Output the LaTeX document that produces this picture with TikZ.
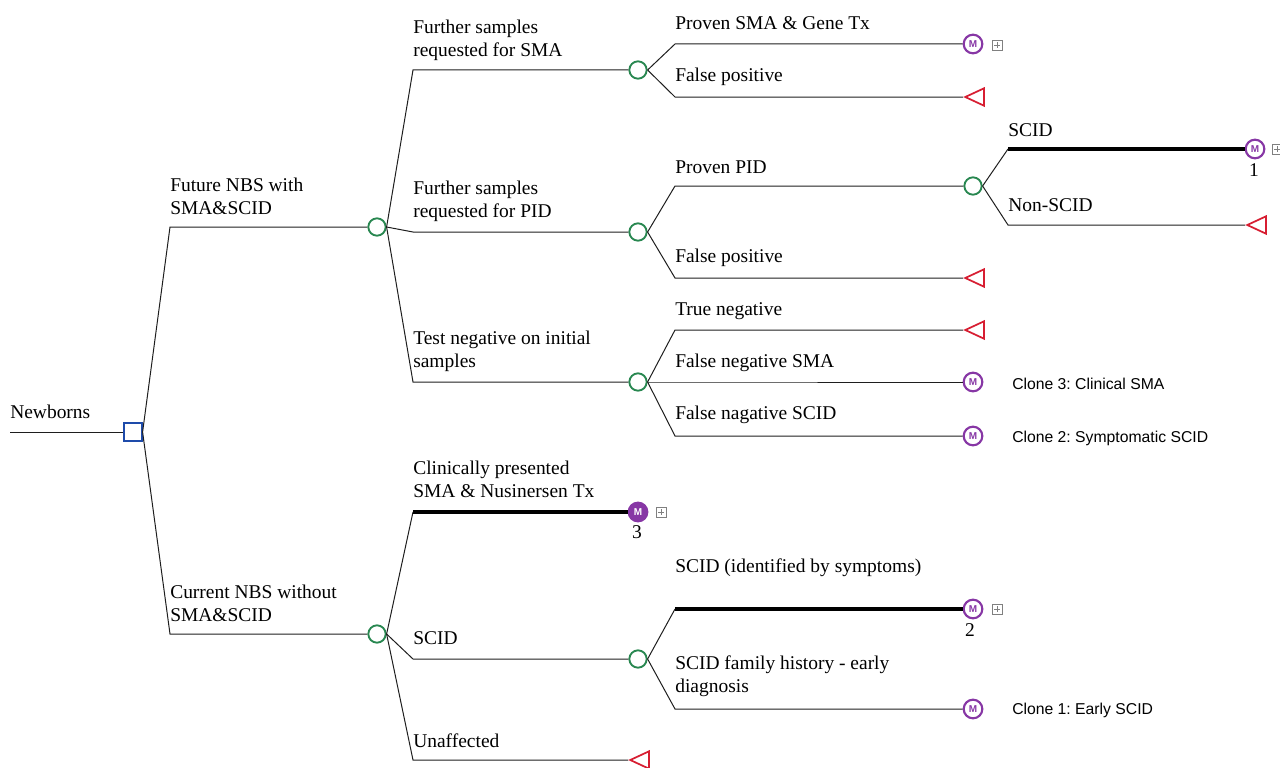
\documentclass[tikz,border=0pt]{standalone}
\usepackage{fontspec}
\setmainfont{Liberation Serif}
\newfontfamily\clonefont{Liberation Sans}
\usetikzlibrary{shapes.geometric}
\definecolor{chancegreen}{RGB}{40,135,80}
\definecolor{decblue}{RGB}{30,75,170}
\definecolor{termred}{RGB}{215,30,50}
\definecolor{markovpurple}{RGB}{135,55,165}
\definecolor{linegray}{RGB}{30,30,30}
\frenchspacing
\begin{document}
\begin{tikzpicture}[x=0.75pt,y=-0.75pt,
 chance/.style={circle,draw=chancegreen,line width=1.4pt,minimum size=13pt,inner sep=0pt,fill=white},
 decision/.style={rectangle,draw=decblue,line width=1.4pt,minimum size=13pt,inner sep=0pt},
 terminal/.style={isosceles triangle,shape border rotate=180,isosceles triangle stretches,minimum width=13pt,minimum height=14pt,draw=termred,line width=1.3pt,inner sep=0pt,anchor=apex},
 markov/.style={circle,draw=markovpurple,line width=1.6pt,minimum size=14pt,inner sep=0pt,text=markovpurple,font=\fontsize{7.5}{7.5}\clonefont\bfseries},
 markovfill/.style={markov,fill=markovpurple,text=white},
 lbl/.style={anchor=west,align=left,inner sep=0pt,yshift=-1.5pt,font=\fontsize{14.6}{17.25}\selectfont},
 clone/.style={anchor=west,inner sep=0pt,font=\fontsize{11.8}{13}\clonefont},
 num/.style={inner sep=0pt,font=\fontsize{14.6}{16}\selectfont},
 plusbox/.style={draw=gray,line width=0.5pt,minimum size=7.5pt,inner sep=0pt,
   path picture={\draw[gray,line width=0.5pt]
     ([xshift=-2.2pt]path picture bounding box.center)--([xshift=2.2pt]path picture bounding box.center)
     ([yshift=-2.2pt]path picture bounding box.center)--([yshift=2.2pt]path picture bounding box.center);}},
 conn/.style={draw=linegray,line width=0.75pt},
 thickconn/.style={draw=black,line width=2.6pt}
]
\useasboundingbox (0,0) rectangle (1280,767);

% root
\coordinate (r0) at (10,432);
\node[decision] (root) at (133,432) {};
\draw[conn] (r0) -- (root.west);
\node[lbl] at (10,410) {Newborns};

% first level
\node[chance] (A) at (377,227) {};
\node[chance] (D) at (377,634) {};
\coordinate (a0) at (170,227);
\coordinate (d0) at (170,634);
\draw[conn] (root.east) -- (a0) -- (A.west);
\draw[conn] (root.east) -- (d0) -- (D.west);
\node[lbl] at (170,194) {Future NBS with\\SMA\&SCID};
\node[lbl] at (170,601.5) {Current NBS without\\SMA\&SCID};

% A branches
\node[chance] (B1) at (638,70) {};
\node[chance] (B2) at (638,232) {};
\node[chance] (B3) at (638,382) {};
\coordinate (a1) at (413,70);
\coordinate (a2) at (413,232);
\coordinate (a3) at (413,382);
\draw[conn] (A.east) -- (a1) -- (B1.west);
\draw[conn] (A.east) -- (a2) -- (B2.west);
\draw[conn] (A.east) -- (a3) -- (B3.west);
\node[lbl] at (413,38.5) {Further samples\\requested for SMA};
\node[lbl] at (413,199.5) {Further samples\\requested for PID};
\node[lbl] at (413,349.5) {Test negative on initial\\samples};

% B1 branches
\node[markov] (M1) at (973,44) {M};
\node[plusbox] (P1) at (997,45) {};
\node[terminal] (T1) at (963,97) {};
\coordinate (b11) at (675,44);
\coordinate (b12) at (675,97);
\draw[conn] (B1.east) -- (b11) -- (M1.west);
\draw[conn] (B1.east) -- (b12) -- (T1.apex);
\node[lbl] at (675,21) {Proven SMA \& Gene Tx};
\node[lbl] at (675,75) {False positive};

% B2 branches
\node[chance] (C) at (973,186) {};
\node[terminal] (T2) at (963,278) {};
\coordinate (b21) at (675,186);
\coordinate (b22) at (675,278);
\draw[conn] (B2.east) -- (b21) -- (C.west);
\draw[conn] (B2.east) -- (b22) -- (T2.apex);
\node[lbl] at (675,165) {Proven PID};
\node[lbl] at (675,256) {False positive};

% C branches
\node[markov] (M2) at (1255,149) {M};
\node[plusbox] (P2) at (1277,149) {};
\node[num] (N1) at (1254,170) {1};
\node[terminal] (T3) at (1245,225) {};
\coordinate (c1) at (1008,149);
\coordinate (c2) at (1008,225);
\draw[conn] (C.east) -- (c1);
\draw[thickconn] (c1) -- (M2.west);
\draw[conn] (C.east) -- (c2) -- (T3.apex);
\node[lbl] at (1008,128) {SCID};
\node[lbl] at (1008,203) {Non-SCID};

% B3 branches
\node[terminal] (T4) at (963,330) {};
\node[markov] (M3) at (973,382) {M};
\node[markov] (M4) at (973,436) {M};
\coordinate (b31) at (675,330);
\coordinate (b32) at (675,382);
\coordinate (b33) at (675,436);
\draw[conn] (B3.east) -- (b31) -- (T4.apex);
\draw[conn] (B3.east) -- (b32) -- (M3.west);
\draw[conn] (B3.east) -- (b33) -- (M4.west);
\node[lbl] at (675,309) {True negative};
\node[lbl] at (675,361) {False negative SMA};
\node[lbl] at (675,413) {False nagative SCID};
\node[clone] at (1012,384) {Clone 3: Clinical SMA};
\node[clone] at (1012,438) {Clone 2: Symptomatic SCID};

% D branches
\node[markovfill] (M5) at (638,512) {M};
\node[plusbox] (P3) at (661,512) {};
\node[num] (N3) at (637,532) {3};
\node[chance] (E) at (638,659) {};
\node[terminal] (T5) at (628,760) {};
\coordinate (d1) at (413,512);
\coordinate (d2) at (413,659);
\coordinate (d3) at (413,760);
\draw[conn] (D.east) -- (d1);
\draw[thickconn] (d1) -- (M5.west);
\draw[conn] (D.east) -- (d2) -- (E.west);
\draw[conn] (D.east) -- (d3) -- (T5.apex);
\node[lbl] at (413,477.5) {Clinically presented\\SMA \& Nusinersen Tx};
\node[lbl] at (413,636) {SCID};
\node[lbl] at (413,739) {Unaffected};

% E branches
\node[markov] (M6) at (973,609) {M};
\node[plusbox] (P4) at (997,609) {};
\node[num] (N2) at (970,630) {2};
\node[markov] (M7) at (973,709) {M};
\coordinate (e1) at (675,609);
\coordinate (e2) at (675,709);
\draw[conn] (E.east) -- (e1);
\draw[thickconn] (e1) -- (M6.west);
\draw[conn] (E.east) -- (e2) -- (M7.west);
\node[lbl] at (675,566) {SCID (identified by symptoms)};
\node[lbl] at (675,674.5) {SCID family history - early\\diagnosis};
\node[clone] at (1012,710) {Clone 1: Early SCID};
\end{tikzpicture}
\end{document}
